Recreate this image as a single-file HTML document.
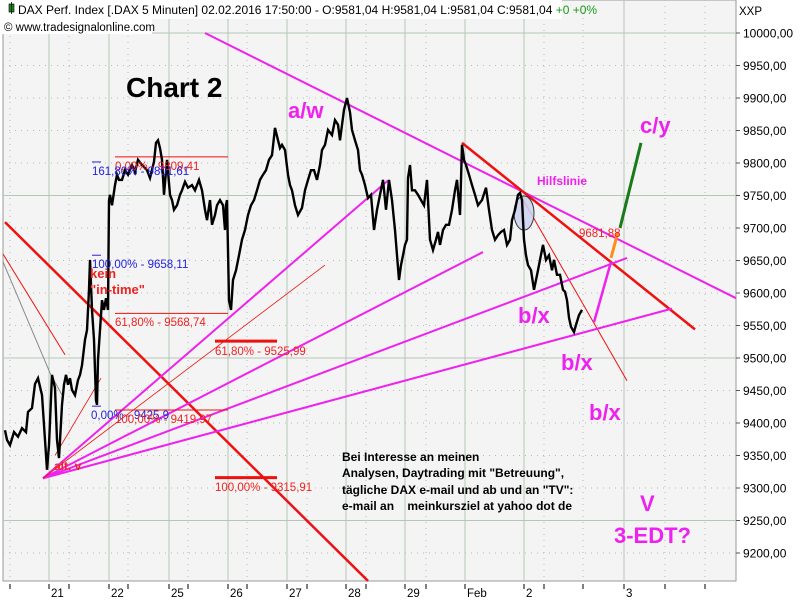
<!DOCTYPE html>
<html><head><meta charset="utf-8">
<style>
html,body{margin:0;padding:0;background:#fff;}
svg{display:block;font-family:"Liberation Sans",sans-serif;}
</style></head>
<body>
<svg id="chart" width="800" height="600" viewBox="0 0 800 600">
  <rect x="0" y="0" width="800" height="600" fill="#ffffff"/>
  <rect x="3" y="0" width="733" height="581" fill="#f4f4f4" stroke="#999" stroke-width="1"/>
  <g id="grid"></g>
  <g id="yaxis"></g>
  <g id="xaxis"></g>
  <g id="drawings"></g>
  <g id="price"></g>
  <g id="labels"></g>
  <g>
    <rect x="0" y="0" width="562" height="19" fill="#fff"/>
    <rect x="0" y="19" width="152" height="15" fill="#fff"/>
    <rect x="9" y="4" width="5" height="8" fill="#1a8a1a" stroke="#000" stroke-width="0.6"/>
    <line x1="11.5" y1="2" x2="11.5" y2="14" stroke="#000" stroke-width="0.8"/>
    <text x="18" y="14" font-size="12" fill="#000">DAX Perf. Index [.DAX  5 Minuten] 02.02.2016 17:50:00 - O:9581,04 H:9581,04 L:9581,04 C:9581,04 <tspan fill="#1a9a1a">+0 +0%</tspan></text>
    <text x="4" y="31" font-size="11.5" fill="#000">© www.tradesignalonline.com</text>
  </g>
</svg>
<script>
// ---- data ----
const timeIdx = [0,2,5,9,13,17,21,23,27,30,33,37,39,41,42,44,47,50,52,54,57,59,61,63,65,67,70,73,75,77,80,82,84,85,87,89,91,92,93,95,97,99,101,103,104,105,107,110,112,114,117,120,123,127,130,133,137,142,145,149,151,153,155,157,159,162,165,167,169,172,175,177,180,183,187,190,194,197,200,202,205,207,210,212,215,218,220,221,222,224,226,228,231,234,237,240,243,246,249,252,255,258,261,264,267,270,273,275,277,280,283,285,287,290,293,297,300,303,306,309,312,315,317,320,323,327,330,333,335,339,342,345,347,350,353,355,357,360,363,366,369,372,375,378,381,384,387,389,390,392,394,396,398,400,402,403,405,407,410,413,416,419,422,425,428,431,433,435,438,441,444,447,450,452,455,457,459,461,464,467,470,473,477,481,484,487,490,493,496,499,502,505,507,510,513,515,517,519,521,523,526,529,531,533,535,538,541,544,547,549,552,555,558,560,562,564,566,569,571,574,577];
const closeVals = [9389,9374,9366,9386,9379,9392,9386,9417,9423,9460,9469,9443,9397,9351,9328,9366,9474,9454,9374,9346,9428,9459,9474,9459,9469,9451,9443,9466,9474,9489,9528,9543,9605,9651,9574,9528,9435,9428,9497,9543,9589,9574,9592,9574,9743,9751,9735,9766,9782,9774,9774,9789,9782,9797,9786,9805,9797,9789,9777,9802,9831,9835,9823,9805,9751,9805,9751,9743,9728,9735,9751,9758,9771,9762,9766,9758,9774,9758,9728,9712,9743,9705,9720,9735,9743,9735,9697,9735,9743,9589,9574,9620,9635,9658,9682,9697,9720,9735,9743,9758,9774,9782,9789,9805,9812,9854,9835,9823,9828,9820,9782,9766,9758,9735,9720,9731,9758,9774,9789,9789,9774,9797,9820,9828,9851,9843,9866,9859,9835,9882,9900,9878,9851,9835,9820,9789,9782,9766,9746,9751,9697,9728,9751,9774,9728,9774,9743,9712,9697,9658,9620,9643,9658,9674,9682,9777,9797,9758,9758,9751,9743,9735,9774,9682,9666,9682,9694,9674,9697,9705,9705,9728,9758,9774,9720,9828,9805,9797,9782,9766,9751,9735,9743,9762,9728,9697,9682,9689,9694,9697,9674,9682,9712,9728,9751,9754,9743,9682,9658,9643,9635,9605,9620,9635,9651,9674,9651,9658,9635,9651,9628,9628,9605,9602,9589,9562,9548,9540,9551,9566,9574];
const yTicks = [10000,9950,9900,9850,9800,9750,9700,9650,9600,9550,9500,9450,9400,9350,9300,9250,9200];
const dayLabels = ["21","22","25","26","27","28","29","Feb","2","3"];
const dayIdx = [44,104,164,223,282,341,400,460,519,619];
const minorIdx = [5,64,123,183,242,302,361,421,539,578,660,700];

// ---- scales ----
const PLOT_L=5, PLOT_R=736, PLOT_B=581;
function xS(t){return PLOT_L+t;}
function yS(v){return 33+(10000-v)*0.65;}
const NS="http://www.w3.org/2000/svg";
function mk(tag,attrs,parent){const e=document.createElementNS(NS,tag);for(const k in attrs)e.setAttribute(k,attrs[k]);parent.appendChild(e);return e;}

const grid=document.getElementById('grid'), yaxis=document.getElementById('yaxis'), xaxis=document.getElementById('xaxis');
yTicks.forEach(v=>{
  const y=yS(v); const major = (v%250===0);
  const gl=mk('line',{x1:3,x2:PLOT_R,y1:y,y2:y,stroke:major?'#b5c7b5':'#b8b8b8','stroke-width':1,'stroke-dasharray':major?'':'1,5'},grid);
  
  
  mk('line',{x1:PLOT_R,x2:PLOT_R+4,y1:y,y2:y,stroke:'#555'},yaxis);
  const tx=mk('text',{x:PLOT_R+7,y:y+4.5,'font-size':12,fill:'#000'},yaxis);
  tx.textContent=v.toFixed(2).replace('.',',');
  
  
});
const xxp=mk('text',{x:739,y:15,'font-size':11.5,fill:'#000'},yaxis); xxp.textContent='XXP';


dayIdx.forEach((t,i)=>{
  const x=xS(t);
  const gl=mk('line',{x1:x,x2:x,y1:0,y2:PLOT_B,stroke:'#b5c7b5','stroke-width':1},grid);
  
  
  mk('line',{x1:x,x2:x,y1:PLOT_B+3,y2:PLOT_B+8,stroke:'#000'},xaxis);
  const tx=mk('text',{x:x+2,y:597,'font-size':11.5,fill:'#000'},xaxis); tx.textContent=dayLabels[i];
  
  
});
minorIdx.forEach(t=>{
  const x=xS(t);
  mk('line',{x1:x,x2:x,y1:0,y2:PLOT_B,stroke:'#b8b8b8','stroke-dasharray':'1,5'},grid);
  mk('line',{x1:x,x2:x,y1:PLOT_B+3,y2:PLOT_B+8,stroke:'#000'},xaxis);
});

const dr=document.getElementById('drawings');
const trendLines=[
 [200,10000,731,9592,'#ee22ee',2],
 [457,9831,690,9544,'#ee1111',2.5],
 [515,9752,622,9465,'#ee1111',1],
 [0,9709,363,9157,'#ee1111',2.5],
 [-2,9660,60,9505,'#ee1111',1],
 [-2,9648,45,9477,'#888888',1],
 [45,9477,57,9443,'#888888',1],
 [38,9315,383,9773,'#ee22ee',2],
 [38,9315,478,9663,'#ee22ee',2],
 [38,9315,622,9654,'#ee22ee',2],
 [38,9315,667,9576,'#ee22ee',2],
 [38,9315,320,9643,'#ee1111',0.8],
 [50,9350,96,9469,'#ee1111',0.8],
 [589,9555,606,9648,'#ee22ee',2.5],
 [606,9654,613,9694,'#ff8c1a',3],
 [615,9700,636,9831,'#1a7a1a',3],
 [110,9809.41,223,9809.41,'#ee1111',1],
 [110,9568.74,223,9568.74,'#ee1111',1],
 [110,9419.97,223,9419.97,'#ee1111',1],
 [210,9525.99,272,9525.99,'#ee1111',3],
 [210,9315.91,272,9315.91,'#ee1111',3],
 [87,9801.61,96,9801.61,'#2222dd',1],
 [87,9658.11,96,9658.11,'#2222dd',1],
 [87,9425.9,96,9425.9,'#2222dd',1]
];
trendLines.forEach(l=>{
  const e=mk('line',{x1:xS(l[0]),y1:yS(l[1]),x2:xS(l[2]),y2:yS(l[3]),stroke:l[4],'stroke-width':l[5]},dr);
  
  
});
const circ=mk('ellipse',{cx:xS(519),cy:yS(9723),rx:10,ry:17,fill:'#ccd0ee','fill-opacity':0.85,stroke:'#333','stroke-width':1},dr);



const pg=document.getElementById('price');
let d='';
timeIdx.forEach((t,i)=>{d+=(i?'L':'M')+xS(t).toFixed(1)+','+yS(closeVals[i]).toFixed(1);});
const pl=mk('path',{d:d,fill:'none',stroke:'#000','stroke-width':2.4,'stroke-linejoin':'miter'},pg);



const lg=document.getElementById('labels');
const labels=[
 [126,97,'Chart 2','#000',28,'bold'],
 [288,118,'a/w','#ee22ee',22,'bold'],
 [640,133,'c/y','#ee22ee',22,'bold'],
 [518,323,'b/x','#ee22ee',22,'bold'],
 [561,370,'b/x','#ee22ee',22,'bold'],
 [589,420,'b/x','#ee22ee',22,'bold'],
 [640,511,'V','#ee22ee',22,'bold'],
 [614,543,'3-EDT?','#ee22ee',22,'bold'],
 [537,185,'Hilfslinie','#ee22ee',12,'bold'],
 [579,237,'9681,88','#ee2222',11.5,'normal'],
 [115,170,'0,00% - 9809,41','#ee2222',11.5,'normal'],
 [92,175,'161,80% - 9801,61','#2222dd',11.5,'normal'],
 [92,268,'100,00% - 9658,11','#2222dd',11.5,'normal'],
 [90,278,'kein','#ee2222',13,'bold'],
 [90,294,'"in-time"','#ee2222',13,'bold'],
 [115,326,'61,80% - 9568,74','#ee2222',11.5,'normal'],
 [215,355,'61,80% - 9525,99','#ee2222',11.5,'normal'],
 [91,419,'0,00% - 9425,9','#2222dd',11.5,'normal'],
 [115,423,'100,00% - 9419,97','#ee2222',11.5,'normal'],
 [215,491,'100,00% - 9315,91','#ee2222',11.5,'normal'],
 [54,470,'alt. v','#ee2222',12,'bold'],
 [342,461,'Bei Interesse an meinen','#000',12,'bold'],
 [342,477,'Analysen, Daytrading mit "Betreuung",','#000',12,'bold'],
 [342,494,'tägliche DAX e-mail und ab und an "TV":','#000',12,'bold'],
 [342,510,'e-mail an    meinkursziel at yahoo dot de','#000',12,'bold']
];
labels.forEach(l=>{
  const t=mk('text',{x:l[0],y:l[1],fill:l[3],'font-size':l[4],'font-weight':l[5]},lg);
  t.setAttribute('xml:space','preserve');
  t.style.whiteSpace='pre';
  t.textContent=l[2];
  
  
});
</script>
</body></html>
